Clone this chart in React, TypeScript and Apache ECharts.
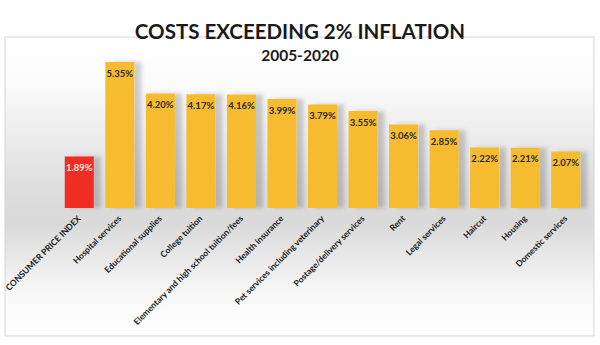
import React, { useEffect, useRef } from "react";
import * as echarts from "echarts";

const categories = [
  "CONSUMER PRICE INDEX",
  "Hospital services",
  "Educational supplies",
  "College tuition",
  "Elementary and high school tuition/fees",
  "Health insurance",
  "Pet services including veterinary",
  "Postage/delivery services",
  "Rent",
  "Legal services",
  "Haircut",
  "Housing",
  "Domestic services",
];
const values = [1.89, 5.35, 4.2, 4.17, 4.16, 3.99, 3.79, 3.55, 3.06, 2.85, 2.22, 2.21, 2.07];
const highlightIndex = 0;
const titleText = "COSTS EXCEEDING 2% INFLATION";
const subtitleText = "2005-2020";

const FONT = "Lato, 'Open Sans', sans-serif";

export default function App() {
  const ref = useRef<HTMLDivElement>(null);
  useEffect(() => {
    if (!ref.current) return;
    const chart = echarts.init(ref.current, null, { renderer: "svg" });
    chart.setOption({
      animation: false,
      backgroundColor: "#ffffff",
      graphic: [
        {
          type: "rect",
          z: -10,
          shape: { x: 5, y: 37, width: 589, height: 299 },
          style: {
            fill: new echarts.graphic.LinearGradient(0, 0, 0, 1, [
              { offset: 0, color: "#ffffff" },
              { offset: 0.15, color: "#fbfbfb" },
              { offset: 0.5, color: "#dedede" },
              { offset: 0.62, color: "#d9d9d9" },
              { offset: 0.85, color: "#f7f7f7" },
              { offset: 1, color: "#ffffff" },
            ]),
            stroke: "#d4d4d4",
            lineWidth: 1,
          },
        },
      ],
      title: [
        {
          text: titleText,
          left: "center",
          top: 15,
          textStyle: { fontFamily: FONT, fontWeight: "bold", fontSize: 20.5, color: "#1a1a1a" },
        },
        {
          text: subtitleText,
          left: "center",
          top: 42,
          textStyle: { fontFamily: FONT, fontWeight: "bold", fontSize: 15.5, color: "#1a1a1a" },
        },
      ],
      grid: { left: 59, right: 14, top: 62, bottom: 137, containLabel: false },
      xAxis: {
        type: "category",
        data: categories,
        axisLine: { show: false },
        axisTick: { show: false },
        axisLabel: {
          interval: 0,
          rotate: 45,
          margin: 9,
          fontFamily: FONT,
          fontWeight: "bold",
          fontSize: 8.5,
          color: "#1a1a1a",
        },
      },
      yAxis: {
        type: "value",
        min: 0,
        max: 5.35,
        show: false,
        splitLine: { show: false },
      },
      series: [
        {
          type: "bar",
          barWidth: 29,
          data: values.map((v, i) => ({
            value: v,
            itemStyle: { color: i === highlightIndex ? "#ee2e24" : "#f6bb2d" },
            label: { color: i === highlightIndex ? "#fde8e6" : "#2a2a2a" },
          })),
          itemStyle: {
            shadowColor: "rgba(0,0,0,0.18)",
            shadowBlur: 4,
            shadowOffsetX: 7,
            shadowOffsetY: 0,
          },
          label: {
            show: true,
            position: "insideTop",
            distance: 6,
            fontFamily: FONT,
            fontWeight: "bold",
            fontSize: 9.5,
            formatter: (p: any) => Number(p.value).toFixed(2) + "%",
          },
        },
      ],
    });
    return () => chart.dispose();
  }, []);
  return <div ref={ref} style={{ width: 600, height: 345, position: "absolute", left: 0, top: 0 }} />;
}
